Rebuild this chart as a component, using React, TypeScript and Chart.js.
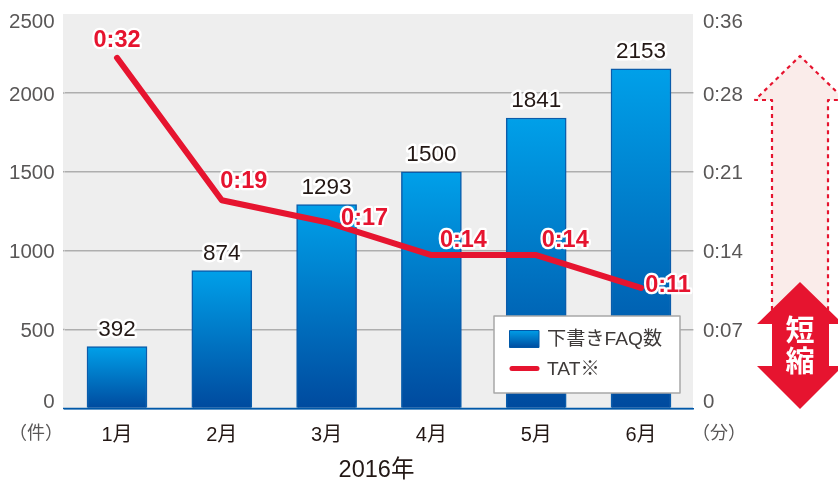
import React, { useEffect, useRef } from "react";
import { Chart, registerables } from "chart.js";

Chart.register(...registerables);

const months = ["1月", "2月", "3月", "4月", "5月", "6月"];
const faqCounts = [392, 874, 1293, 1500, 1841, 2153];
const tatMinutes = [32, 19, 17, 14, 14, 11];
const tatLabels = ["0:32", "0:19", "0:17", "0:14", "0:14", "0:11"];
const countTicks = [0, 500, 1000, 1500, 2000, 2500];
const timeTickLabels = ["0", "0:07", "0:14", "0:21", "0:28", "0:36"];
const barSeriesName = "下書きFAQ数";
const lineSeriesName = "TAT※";
const leftUnit = "（件）";
const rightUnit = "（分）";
const xTitle = "2016年";
const shortenChars = ["短", "縮"];

const SANS = '"Liberation Sans", "Noto Sans CJK JP", sans-serif';
const RED = "#e6142f";
const TICK = "#595757";
const DARK = "#231815";
const GRID = "#aeaeae";
const BLUE = "#0058a8";
const PLOT_LEFT = 63;
const PLOT_RIGHT = 693;

function barGradient(ctx: CanvasRenderingContext2D, top: number, bottom: number) {
  const g = ctx.createLinearGradient(0, top, 0, bottom);
  g.addColorStop(0, "#00a0e9");
  g.addColorStop(1, "#004a9e");
  return g;
}

function halo(ctx: CanvasRenderingContext2D, text: string, x: number, y: number, fill: string, w: number) {
  ctx.lineJoin = "round";
  ctx.lineWidth = w;
  ctx.strokeStyle = "#ffffff";
  ctx.strokeText(text, x, y);
  ctx.fillStyle = fill;
  ctx.fillText(text, x, y);
}

const backdrop = {
  id: "backdrop",
  beforeDraw(chart: any) {
    const { ctx, chartArea } = chart;
    ctx.save();
    ctx.fillStyle = "#eeeeee";
    ctx.fillRect(PLOT_LEFT, chartArea.top, PLOT_RIGHT - PLOT_LEFT, chartArea.bottom - chartArea.top);
    ctx.restore();
    // first and last axis labels sit inside the plot's height, as in the source
    ["y", "y2"].forEach((id) => {
      const items = chart.scales[id].getLabelItems();
      items.forEach((item: any, i: number) => {
        if (item.__moved) return;
        item.__moved = true;
        item.options.translation[1] += 2;
        if (i === 0) item.options.translation[1] -= 8;
        if (i === items.length - 1) item.options.translation[1] += 6;
      });
    });
  },
  beforeDatasetsDraw(chart: any) {
    const { ctx, chartArea, scales } = chart;
    ctx.save();
    ctx.strokeStyle = GRID;
    ctx.lineWidth = 1.5;
    scales.y.ticks.forEach((t: any) => {
      if (t.value === 0 || t.value === 2500) return;
      const y = scales.y.getPixelForValue(t.value);
      ctx.beginPath();
      ctx.moveTo(PLOT_LEFT, y);
      ctx.lineTo(chartArea.left, y);
      ctx.stroke();
    });
    ctx.restore();
  },
};

const annotations = {
  id: "annotations",
  afterDatasetsDraw(chart: any) {
    const { ctx, scales, chartArea } = chart;
    ctx.save();
    // baseline
    ctx.strokeStyle = BLUE;
    ctx.lineWidth = 1.5;
    ctx.beginPath();
    ctx.moveTo(PLOT_LEFT, chartArea.bottom);
    ctx.lineTo(PLOT_RIGHT, chartArea.bottom);
    ctx.stroke();

    ctx.textAlign = "center";
    ctx.textBaseline = "middle";

    // bar values
    ctx.font = `22.5px ${SANS}`;
    faqCounts.forEach((v, i) => {
      halo(ctx, String(v), scales.x.getPixelForValue(i), scales.y.getPixelForValue(v) - 17, DARK, 5);
    });

    // line labels
    const shift = [[0, -17], [22, -19], [38, -4], [32, -15], [29, -15], [27, -2]];
    ctx.font = `bold 23.5px ${SANS}`;
    tatLabels.forEach((t, i) => {
      const x = scales.x.getPixelForValue(i) + shift[i][0];
      const y = scales.y2.getPixelForValue(tatMinutes[i]) + shift[i][1];
      halo(ctx, t, x, y, RED, 4.5);
    });

    // legend
    ctx.fillStyle = "#ffffff";
    ctx.fillRect(494, 316, 186, 77);
    ctx.strokeStyle = "#a8a8a8";
    ctx.lineWidth = 1.5;
    ctx.strokeRect(494, 316, 186, 77);
    ctx.fillStyle = barGradient(ctx, 330, 348);
    ctx.fillRect(509.5, 330.5, 29.5, 17);
    ctx.strokeStyle = BLUE;
    ctx.lineWidth = 1;
    ctx.strokeRect(509.5, 330.5, 29.5, 17);
    ctx.strokeStyle = RED;
    ctx.lineWidth = 5;
    ctx.lineCap = "round";
    ctx.beginPath();
    ctx.moveTo(512, 368.5);
    ctx.lineTo(537, 368.5);
    ctx.stroke();
    ctx.lineCap = "butt";
    ctx.font = `19.2px ${SANS}`;
    ctx.textAlign = "left";
    ctx.fillStyle = "#3e3a39";
    ctx.fillText(barSeriesName, 547, 340);
    ctx.fillText(lineSeriesName, 547, 370);

    // unit labels and axis caption
    ctx.font = `18px ${SANS}`;
    ctx.fillStyle = TICK;
    ctx.textAlign = "center";
    ctx.fillText(leftUnit, 36, 434);
    ctx.fillText(rightUnit, 719, 434);
    ctx.font = `23.5px ${SANS}`;
    ctx.fillStyle = DARK;
    ctx.fillText(xTitle, 376.5, 471);

    // pale dashed arrow
    ctx.beginPath();
    ctx.moveTo(772, 310);
    ctx.lineTo(772, 100);
    ctx.lineTo(755, 100);
    ctx.lineTo(800, 56);
    ctx.lineTo(845, 100);
    ctx.lineTo(828, 100);
    ctx.lineTo(828, 310);
    ctx.fillStyle = "#faecea";
    ctx.fill();
    ctx.setLineDash([4, 4]);
    ctx.strokeStyle = RED;
    ctx.lineWidth = 2.2;
    ctx.stroke();
    ctx.setLineDash([]);

    // solid double arrow
    ctx.beginPath();
    ctx.moveTo(800, 282);
    ctx.lineTo(843, 324);
    ctx.lineTo(829, 324);
    ctx.lineTo(829, 366);
    ctx.lineTo(843, 366);
    ctx.lineTo(800, 409);
    ctx.lineTo(757, 366);
    ctx.lineTo(772, 366);
    ctx.lineTo(772, 324);
    ctx.lineTo(757, 324);
    ctx.closePath();
    ctx.fillStyle = RED;
    ctx.fill();
    ctx.fillStyle = "#ffffff";
    ctx.font = 'bold 29px "Noto Sans CJK JP", sans-serif';
    ctx.textAlign = "center";
    ctx.fillText(shortenChars[0], 800, 330);
    ctx.fillText(shortenChars[1], 800, 361);
    ctx.restore();
  },
};

export default function App() {
  const ref = useRef<HTMLCanvasElement>(null);
  useEffect(() => {
    const chart = new Chart(ref.current as HTMLCanvasElement, {
      data: {
        labels: months,
        datasets: [
          {
            type: "line",
            label: lineSeriesName,
            data: tatMinutes,
            yAxisID: "y2",
            borderColor: RED,
            borderWidth: 6,
            borderCapStyle: "round",
            borderJoinStyle: "round",
            pointRadius: 0,
            tension: 0,
            order: 1,
          },
          {
            type: "bar",
            label: barSeriesName,
            data: faqCounts,
            yAxisID: "y",
            barThickness: 60,
            borderWidth: 1.5,
            borderColor: "#0a5cab",
            backgroundColor: (c: any) => {
              const { chart: ch } = c;
              if (!ch.chartArea || !c.parsed) return "#0072c0";
              return barGradient(ch.ctx, ch.scales.y.getPixelForValue(c.parsed.y), ch.chartArea.bottom);
            },
            order: 2,
          },
        ],
      } as any,
      plugins: [backdrop, annotations],
      options: {
        responsive: false,
        animation: false,
        layout: { autoPadding: false, padding: { top: 14 } },
        plugins: { legend: { display: false }, tooltip: { enabled: false } },
        scales: {
          x: {
            afterFit: (s: any) => { s.height = 72.5; },
            grid: { display: false, drawTicks: false },
            border: { color: BLUE, width: 1.5 },
            ticks: { color: DARK, padding: 15, maxRotation: 0, font: { family: SANS, size: 20 } },
          },
          y: {
            position: "left",
            min: 0,
            max: 2500,
            afterFit: (s: any) => { s.width = 64.6; s.paddingTop = 0; s.paddingBottom = 0; },
            afterBuildTicks: (s: any) => { s.ticks = countTicks.map((value) => ({ value })); },
            grid: {
              drawTicks: false,
              lineWidth: 1.5,
              color: (c: any) => (c.tick && (c.tick.value === 0 || c.tick.value === 2500) ? "rgba(0,0,0,0)" : GRID),
            },
            border: { display: false },
            ticks: {
              color: TICK,
              padding: 10,
              font: { family: SANS, size: 20.5 },
              callback: (v: any) => String(v),
            },
          },
          y2: {
            position: "right",
            min: 0,
            max: 36,
            afterFit: (s: any) => { s.width = 144.6; s.paddingTop = 0; s.paddingBottom = 0; },
            afterBuildTicks: (s: any) => { s.ticks = timeTickLabels.map((_, i) => ({ value: (i * 36) / 5 })); },
            grid: { display: false, drawTicks: false },
            border: { display: false },
            ticks: {
              color: TICK,
              padding: 9.5,
              font: { family: SANS, size: 20.5 },
              callback: (_: any, i: number) => timeTickLabels[i],
            },
          },
        },
      },
    } as any);
    return () => chart.destroy();
  }, []);
  return (
    <div style={{ position: "fixed", left: 0, top: 0, width: 838, height: 481, background: "#fff" }}>
      <canvas ref={ref} width={838} height={481} style={{ display: "block", width: 838, height: 481 }} />
    </div>
  );
}
